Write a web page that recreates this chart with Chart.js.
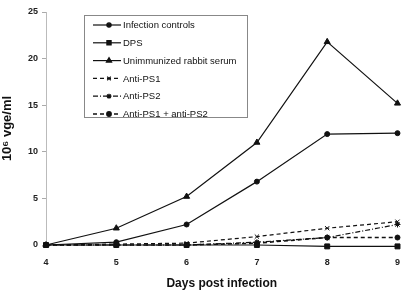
<!DOCTYPE html>
<html><head><meta charset="utf-8">
<script src="https://cdn.jsdelivr.net/npm/chart.js@4"></script>
<style>html,body{margin:0;padding:0;background:#fff}#wrap{width:412px;height:291px}</style>
</head><body><div id="wrap"><canvas id="c" width="412" height="291"></canvas></div>
<script>
const days = ['4','5','6','7','8','9'];
const infectionControls = [0, 0.3, 2.2, 6.8, 11.9, 12.0];
const dps = [0, 0, 0, 0, -0.15, -0.15];
const unimmunized = [0, 1.8, 5.2, 11.0, 21.8, 15.2];
const antiPS1 = [0, 0.1, 0.2, 0.9, 1.8, 2.5];
const antiPS2 = [0, 0, 0, 0.3, 0.8, 2.2];
const antiPS1PS2 = [0, 0, 0, 0.2, 0.8, 0.8];
const yTicks = [0, 5, 10, 15, 20, 25];

const FONT = "'Liberation Sans', Arial, sans-serif";
function ds(label, data, style, radius, dash, width) {
  return {label, data, borderColor:'#111', backgroundColor:'#111', pointStyle:style,
    pointRadius:radius, pointBorderWidth:1, borderWidth:width||1.2, borderDash:dash||[], tension:0, clip:false};
}
const legendPlugin = {
  id:'boxLegend',
  afterDraw(chart){
    const ctx = chart.ctx;
    const x0=84, y0=15, w=163, h=102;
    ctx.save();
    ctx.strokeStyle='#888'; ctx.lineWidth=1; ctx.setLineDash([]);
    ctx.strokeRect(x0+0.5,y0+0.5,w,h);
    chart.data.datasets.forEach((d,i)=>{
      const y = y0+10+i*17.8;
      ctx.strokeStyle='#111'; ctx.lineWidth=d.borderWidth; ctx.setLineDash(d.borderDash);
      ctx.beginPath(); ctx.moveTo(x0+9,y); ctx.lineTo(x0+37,y); ctx.stroke();
      ctx.setLineDash([]);
      Chart.helpers.drawPoint(ctx,{pointStyle:d.pointStyle,radius:d.pointRadius*0.85,borderWidth:1},x0+25,y);
      ctx.fillStyle='#111'; ctx.font='9.5px '+FONT; ctx.textBaseline='middle';
      ctx.fillText(d.label,x0+39,y+0.5);
    });
    ctx.restore();
  }
};
new Chart(document.getElementById('c'),{
  type:'line',
  data:{labels:days,datasets:[
    ds('Infection controls',infectionControls,'circle',2.5),
    ds('DPS',dps,'rect',3.5),
    ds('Unimmunized rabbit serum',unimmunized,'triangle',3.5),
    ds('Anti-PS1',antiPS1,'crossRot',3,[4,3]),
    ds('Anti-PS2',antiPS2,'star',3,[5,2,1,2]),
    ds('Anti-PS1 + anti-PS2',antiPS1PS2,'circle',2.5,[4,3],1.6)
  ]},
  options:{
    responsive:false, animation:false, devicePixelRatio:1,
    layout:{padding:{top:12,right:11,left:0,bottom:0}},
    plugins:{legend:{display:false},tooltip:{enabled:false}},
    scales:{
      x:{offset:false, grid:{display:false,drawTicks:false}, border:{display:false},
        ticks:{color:'#222',font:{family:FONT,size:9,weight:'bold'},padding:12,maxRotation:0},
        title:{display:true,text:'Days post infection',color:'#111',font:{family:FONT,size:12,weight:'bold'},padding:{top:4,bottom:0}},
        afterFit(s){s.height=46;}
      },
      y:{min:0,max:25,afterBuildTicks(s){s.ticks=yTicks.map(v=>({value:v}));},
        grid:{display:true,drawOnChartArea:false,drawTicks:true,tickLength:4,color:'#aaa'},
        border:{display:true,color:'#bbb',dash:[3,3]},
        ticks:{color:'#222',font:{family:FONT,size:9,weight:'bold'},padding:4},
        title:{display:true,text:'10⁶ vge/ml',color:'#111',font:{family:FONT,size:13,weight:'bold'},padding:{top:0,bottom:4}},
        afterFit(s){s.width=46;}
      }
    }
  },
  plugins:[legendPlugin]
});
</script></body></html>
